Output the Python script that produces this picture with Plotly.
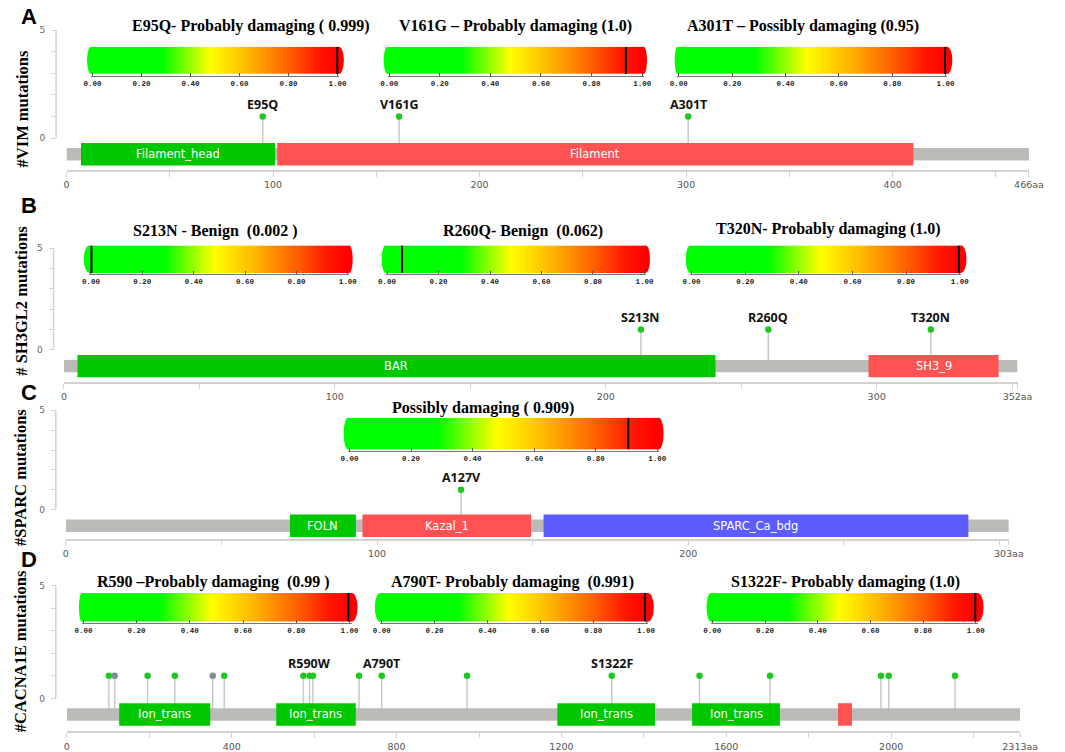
import plotly.graph_objects as go

W, H = 1065, 752

# ------------------------------------------------------------------ data
panel_letters = ["A", "B", "C", "D"]
gene_titles = ["#VIM mutations", "# SH3GL2 mutations", "#SPARC mutations", "#CACNA1E mutations"]
protein_lengths = [466, 352, 303, 2313]

# mutations (position, count, label, status)
vim_pos = [95, 161, 301]
vim_cnt = [1, 1, 1]
vim_lab = ["E95Q", "V161G", "A301T"]
vim_kind = ["missense", "missense", "missense"]

sh3gl2_pos = [213, 260, 320]
sh3gl2_cnt = [1, 1, 1]
sh3gl2_lab = ["S213N", "R260Q", "T320N"]
sh3gl2_kind = ["missense", "missense", "missense"]

sparc_pos = [127]
sparc_cnt = [1]
sparc_lab = ["A127V"]
sparc_kind = ["missense"]

cacna1e_pos = [102, 116, 196, 262, 354, 382, 574, 589, 597, 709, 764, 971,
               1322, 1535, 1706, 1975, 1994, 2155]
cacna1e_cnt = [1] * 18
cacna1e_lab = ["", "", "", "", "", "", "", "R590W", "", "", "A790T", "",
               "S1322F", "", "", "", "", ""]
cacna1e_kind = ["missense", "other", "missense", "missense", "other", "missense",
                "missense", "missense", "missense", "missense", "missense", "missense",
                "missense", "missense", "missense", "missense", "missense", "missense"]

# domains (name, start, end, type)
vim_dom_name = ["Filament_head", "Filament"]
vim_dom_start = [7, 102]
vim_dom_end = [101, 410]
vim_dom_type = ["g", "r"]

sh3gl2_dom_name = ["BAR", "SH3_9"]
sh3gl2_dom_start = [5, 297]
sh3gl2_dom_end = [240.5, 345]
sh3gl2_dom_type = ["g", "r"]

sparc_dom_name = ["FOLN", "Kazal_1", "SPARC_Ca_bdg"]
sparc_dom_start = [72, 95.3, 153.5]
sparc_dom_end = [93.2, 149.5, 290]
sparc_dom_type = ["g", "r", "b"]

cacna1e_dom_name = ["Ion_trans", "Ion_trans", "Ion_trans", "Ion_trans", ""]
cacna1e_dom_start = [127, 508, 1190, 1517, 1871]
cacna1e_dom_end = [348, 701, 1427, 1730, 1905]
cacna1e_dom_type = ["g", "g", "g", "g", "r"]

# x tick values / labels of the protein axes
vim_ticks = [0, 50, 100, 150, 200, 250, 300, 350, 400, 450, 466]
vim_ticklab = ["0", "", "100", "", "200", "", "300", "", "400", "", "466aa"]
sh3gl2_ticks = [0, 50, 100, 150, 200, 250, 300, 350, 352]
sh3gl2_ticklab = ["0", "", "100", "", "200", "", "300", "", "352aa"]
sparc_ticks = [0, 50, 100, 150, 200, 250, 300, 303]
sparc_ticklab = ["0", "", "100", "", "200", "", "", "303aa"]
cacna1e_ticks = [0, 200, 400, 600, 800, 1000, 1200, 1400, 1600, 1800, 2000, 2200, 2313]
cacna1e_ticklab = ["0", "", "400", "", "800", "", "1200", "", "1600", "", "2000", "", "2313aa"]

y_ticks = [0, 1, 2, 3, 4, 5]
y_ticklab = ["0", "", "", "", "", "5"]

# PolyPhen-2 score bars
polyphen_titles = [
    "E95Q- Probably damaging ( 0.999)",
    "V161G \u2013 Probably damaging (1.0)",
    "A301T \u2013 Possibly damaging (0.95)",
    "S213N - Benign \u00a0(0.002 )",
    "R260Q- Benign \u00a0(0.062)",
    "T320N- Probably damaging (1.0)",
    "Possibly damaging ( 0.909)",
    "R590 \u2013Probably damaging \u00a0(0.99 )",
    "A790T- Probably damaging \u00a0(0.991)",
    "S1322F- Probably damaging (1.0)",
]
polyphen_marker = [0.999, 0.936, 0.998, 0.002, 0.058, 0.997, 0.906, 0.996, 0.996, 0.998]
grad_ticks = [0, 0.2, 0.4, 0.6, 0.8, 1.0]
grad_ticklab = ["0.00", "0.20", "0.40", "0.60", "0.80", "1.00"]
grad_ramp = [0, 1]

# ------------------------------------------------------------------ styling / geometry (pixels)
panels_geo = [
    dict(x0=60.0, ppx=2.117, y0=136.0, ppu=21.74, xline=168.3, yline=49.3,
         letter=(21.7, 13.3), title=(15, 106.5)),
    dict(x0=57.3, ppx=2.777, y0=349.3, ppu=20.52, xline=381.7, yline=46.7,
         letter=(21.7, 204), title=(13, 300)),
    dict(x0=59.3, ppx=3.19, y0=510.0, ppu=20.0, xline=539.3, yline=49.0,
         letter=(21.7, 392), title=(13, 477.5)),
    dict(x0=60.3, ppx=0.4225, y0=700.0, ppu=22.67, xline=733.3, yline=49.0,
         letter=(21.7, 560), title=(13, 653)),
]
bars_geo = [
    dict(t0=86.7, t1=337.7, left=81, right=344.3, top=44, bottom=71.5, tx=249, ty=23.3),
    dict(t0=390.7, t1=650, left=385, right=655, top=44, bottom=71.5, tx=520, ty=23.3),
    dict(t0=687.6, t1=961, left=683.4, right=968, top=44, bottom=71.5, tx=815, ty=23.3),
    dict(t0=85, t1=348.3, left=77.7, right=353.3, top=244, bottom=271.7, tx=212, ty=230),
    dict(t0=388.6, t1=652.4, left=383, right=658, top=244, bottom=271.7, tx=528, ty=230),
    dict(t0=700.7, t1=975.5, left=694.8, right=982.4, top=244, bottom=271.7, tx=841, ty=228),
    dict(t0=350, t1=665.5, left=344, right=672, top=417.5, bottom=449.5, tx=487, ty=408),
    dict(t0=77.3, t1=350, left=72.7, right=358.3, top=594, bottom=622.7, tx=211, ty=583),
    dict(t0=383, t1=654, left=376, right=662, top=594, bottom=622.7, tx=517, ty=583),
    dict(t0=722, t1=992, left=716, right=1000, top=594, bottom=622.7, tx=858.6, ty=583),
]

dom_colors = {"g": "#00c800", "r": "#ff5252", "b": "#5c5cff"}
head_colors = {"missense": "#1ec81e", "other": "#7f8c9a"}
BACKBONE = "#bbbcb7"
AXIS_GRAY = "#d2d2d2"
BB_PX = (10.0, 22.5)
DOM_PX = (5.0, 27.5)

colorscale = [[0, "#00ff00"], [0.285, "#00ff00"], [0.48, "#ffff00"],
              [0.64, "#ffb400"], [0.8, "#ff6000"], [0.92, "#ff1800"], [1, "#ff0000"]]

panel_data = [
    (vim_pos, vim_cnt, vim_lab, vim_kind, vim_dom_name, vim_dom_start, vim_dom_end, vim_dom_type, vim_ticks, vim_ticklab),
    (sh3gl2_pos, sh3gl2_cnt, sh3gl2_lab, sh3gl2_kind, sh3gl2_dom_name, sh3gl2_dom_start, sh3gl2_dom_end, sh3gl2_dom_type, sh3gl2_ticks, sh3gl2_ticklab),
    (sparc_pos, sparc_cnt, sparc_lab, sparc_kind, sparc_dom_name, sparc_dom_start, sparc_dom_end, sparc_dom_type, sparc_ticks, sparc_ticklab),
    (cacna1e_pos, cacna1e_cnt, cacna1e_lab, cacna1e_kind, cacna1e_dom_name, cacna1e_dom_start, cacna1e_dom_end, cacna1e_dom_type, cacna1e_ticks, cacna1e_ticklab),
]


def fx(px):
    return px / W


def fy(py):
    return 1 - py / H


fig = go.Figure()
layout = {}
shapes = []
annots = []

for i, geo in enumerate(panels_geo):
    pos, cnt, lab, kind, dname, dstart, dend, dtype, xt, xtl = panel_data[i]
    sfx = "" if i == 0 else str(i + 1)
    xa, ya = "x" + sfx, "y" + sfx
    L = protein_lengths[i]
    ppu = geo["ppu"]
    x1px = geo["x0"] + L * geo["ppx"]
    ybot = -(geo["xline"] - geo["y0"]) / ppu
    ytop = 5.1
    top_px = geo["y0"] - ytop * ppu
    layout["xaxis" + sfx] = dict(
        domain=[fx(geo["x0"]), fx(x1px)], range=[0, L], anchor=ya,
        showline=True, linecolor=AXIS_GRAY, linewidth=1.5,
        ticks="outside", ticklen=5, tickwidth=1.2, tickcolor=AXIS_GRAY,
        tickvals=xt, ticktext=xtl, ticklabeloverflow="allow",
        tickfont=dict(family="DejaVu Sans", size=9.5, color="#555"),
        showgrid=False, zeroline=False, fixedrange=True)
    layout["yaxis" + sfx] = dict(
        domain=[fy(geo["xline"]), fy(top_px)], range=[ybot, ytop],
        anchor="free", position=fx(geo["yline"]),
        showline=False, ticks="outside", ticklen=5, tickwidth=1.2, tickcolor=AXIS_GRAY,
        tickvals=y_ticks, ticktext=y_ticklab, ticklabeloverflow="allow", ticklabelstandoff=4,
        tickfont=dict(family="DejaVu Sans", size=9, color="#666"),
        showgrid=False, zeroline=False, fixedrange=True)
    # y axis line from 0 to 5
    shapes.append(dict(type="line", xref="paper", yref=ya, x0=fx(geo["yline"]), x1=fx(geo["yline"]),
                       y0=0, y1=5, line=dict(color=AXIS_GRAY, width=1.5), layer="above"))

    bb_mid = -(BB_PX[0] + BB_PX[1]) / 2 / ppu
    # stems
    sx, sy = [], []
    for p, c in zip(pos, cnt):
        sx += [p, p, None]
        sy += [c, bb_mid, None]
    fig.add_trace(go.Scatter(x=sx, y=sy, mode="lines", line=dict(color="#c9c9c9", width=1.5),
                             xaxis=xa, yaxis=ya, hoverinfo="skip", showlegend=False))
    fig.add_trace(go.Scatter(x=pos, y=cnt, mode="markers",
                             marker=dict(size=6.5, color=[head_colors[k] for k in kind], line=dict(width=0)),
                             xaxis=xa, yaxis=ya, showlegend=False, cliponaxis=False))
    for p, c, t in zip(pos, cnt, lab):
        if t:
            annots.append(dict(x=p, y=c, xref=xa, yref=ya, text="<b>%s</b>" % t, showarrow=False,
                               xanchor="center", yanchor="middle",
                               yshift=12, font=dict(family="Open Sans", size=12.5, color="#111")))
    # backbone
    shapes.append(dict(type="rect", xref=xa, yref=ya, x0=0, x1=L, y0=-BB_PX[1] / ppu, y1=-BB_PX[0] / ppu,
                       fillcolor=BACKBONE, line=dict(width=0), layer="above"))
    for n, s, e, t in zip(dname, dstart, dend, dtype):
        shapes.append(dict(type="rect", xref=xa, yref=ya, x0=s, x1=e, y0=-DOM_PX[1] / ppu, y1=-DOM_PX[0] / ppu,
                           fillcolor=dom_colors[t], line=dict(width=0), layer="above"))
        if n:
            annots.append(dict(x=(s + e) / 2, y=-(DOM_PX[0] + DOM_PX[1]) / 2 / ppu, xref=xa, yref=ya, text=n,
                               showarrow=False, xanchor="center", yanchor="middle",
                               font=dict(family="DejaVu Sans", size=11.5, color="white")))
    # panel letter and y title
    annots.append(dict(x=fx(geo["letter"][0]), y=fy(geo["letter"][1]), xref="paper", yref="paper",
                       text="<b>%s</b>" % panel_letters[i], showarrow=False,
                       xanchor="center", yanchor="middle",
                       font=dict(family="Liberation Sans", size=22, color="black")))
    annots.append(dict(x=fx(geo["title"][0]), y=fy(geo["title"][1]), xref="paper", yref="paper",
                       text="<b>%s</b>" % gene_titles[i], showarrow=False, textangle=-90,
                       xanchor="center", yanchor="middle",
                       font=dict(family="Liberation Serif", size=16.5, color="black")))

# PolyPhen gradient bars
CAP = 6
for j, b in enumerate(bars_geo):
    n = 5 + j
    xa, ya = "x%d" % n, "y%d" % n
    dl = min(b["left"] + CAP, b["t0"] - 1.5)
    dr = max(b["right"] - CAP, b["t1"] + 1.5)
    capl = dl - b["left"]
    capr = b["right"] - dr
    span = b["t1"] - b["t0"]
    rlo = (dl - b["t0"]) / span
    rhi = 1 + (dr - b["t1"]) / span
    dw = dr - dl
    layout["xaxis%d" % n] = dict(
        domain=[fx(dl), fx(dr)], range=[rlo, rhi], anchor="free", position=fy(b["bottom"] + 1.5),
        showline=True, linecolor="#777", linewidth=1, ticks="inside", ticklen=3, tickcolor="#555",
        tickvals=grad_ticks, ticktext=grad_ticklab, ticklabeloverflow="allow",
        tickfont=dict(family="Liberation Mono", size=7.5, color="#222", weight="bold"),
        showgrid=False, zeroline=False, fixedrange=True)
    layout["yaxis%d" % n] = dict(domain=[fy(b["bottom"]), fy(b["top"])], range=[0, 1], anchor=xa,
                                 visible=False, fixedrange=True)
    fig.add_trace(go.Heatmap(z=[grad_ramp, grad_ramp], x=grad_ramp, y=[0, 1], zmin=0, zmax=1,
                             colorscale=colorscale, zsmooth="best", showscale=False,
                             xaxis=xa, yaxis=ya, hoverinfo="skip"))
    shapes.append(dict(type="circle", xref=xa + " domain", yref=ya + " domain",
                       x0=-capl / dw, x1=capl / dw, y0=0, y1=1, fillcolor="#00ff00",
                       line=dict(width=0), layer="below"))
    shapes.append(dict(type="circle", xref=xa + " domain", yref=ya + " domain",
                       x0=1 - capr / dw, x1=1 + capr / dw, y0=0, y1=1, fillcolor="#ff0000",
                       line=dict(width=0), layer="below"))
    shapes.append(dict(type="line", xref=xa, yref=ya, x0=polyphen_marker[j], x1=polyphen_marker[j],
                       y0=0, y1=1, line=dict(color="black", width=2), layer="above"))
    annots.append(dict(x=fx(b["tx"]), y=fy(b["ty"]), xref="paper", yref="paper",
                       text="<b>%s</b>" % polyphen_titles[j], showarrow=False,
                       xanchor="center", yanchor="middle",
                       font=dict(family="Liberation Serif", size=16, color="black")))

fig.update_layout(
    width=W, height=H, autosize=False,
    margin=dict(l=0, r=0, t=0, b=0),
    paper_bgcolor="white", plot_bgcolor="rgba(0,0,0,0)",
    showlegend=False, shapes=shapes, annotations=annots, **layout)

fig.write_html("out.html", config={"displayModeBar": False},
               post_script="document.body.style.margin='0';document.body.style.overflow='hidden';")
